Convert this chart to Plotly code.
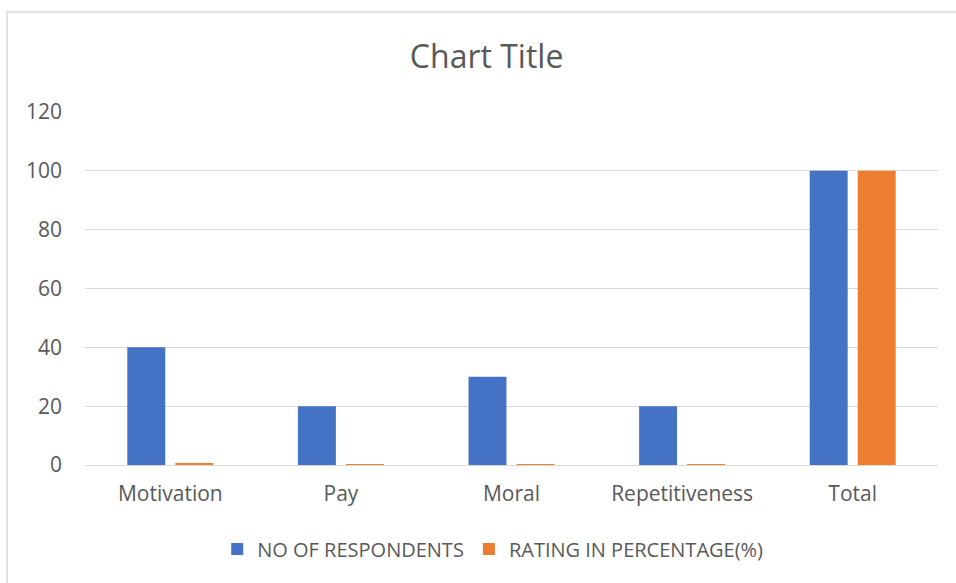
import plotly.graph_objects as go

categories = ["Motivation", "Pay", "Moral", "Repetitiveness", "Total"]
respondents = [40, 20, 30, 20, 100]
rating_pct = [0.4, 0.2, 0.3, 0.2, 100]

FONT = "Open Sans"
GRAY = "#595959"

fig = go.Figure()
fig.add_trace(go.Bar(x=categories, y=respondents, name="NO OF RESPONDENTS",
                     marker=dict(color="#4472C4", line=dict(width=0))))
fig.add_trace(go.Bar(x=categories, y=rating_pct, name="RATING IN PERCENTAGE(%)",
                     marker=dict(color="#ED7D31", line=dict(width=0))))

L, R, T, B = 85, 18, 112, 118
W, H = 956, 583
pw, ph = W - L - R, H - T - B

fig.update_layout(
    width=W, height=H,
    margin=dict(l=L, r=R, t=T, b=B),
    paper_bgcolor="white", plot_bgcolor="white",
    barmode="group", bargap=0.437, bargroupgap=0.21,
    title=dict(text="Chart Title", x=0.509, xref="container", xanchor="center",
               y=1 - 57 / H, yref="container", yanchor="middle",
               font=dict(family=FONT, size=32, color=GRAY)),
    font=dict(family=FONT, color=GRAY),
    showlegend=True,
    legend=dict(orientation="h", x=0.478, xanchor="center", xref="paper",
                y=(H - B - 549) / ph, yanchor="middle",
                font=dict(family=FONT, size=20, color=GRAY),
                itemwidth=30, traceorder="normal"),
    yaxis=dict(range=[0, 120], dtick=20, showgrid=True, gridcolor="#d9d9d9",
               gridwidth=1, zeroline=False, showline=False,
               tickfont=dict(family=FONT, size=21, color=GRAY),
               ticklabelstandoff=22, fixedrange=True),
    xaxis=dict(showgrid=False, showline=True, linecolor="#d9d9d9", linewidth=1,
               tickfont=dict(family=FONT, size=21, color=GRAY),
               ticklabelstandoff=10, fixedrange=True),
    hovermode=False,
)

fig.add_shape(type="rect", xref="paper", yref="paper",
              x0=(7 - L) / pw, x1=1.2, y0=-0.6, y1=(H - B - 12) / ph,
              line=dict(color="#d9d9d9", width=1.5), fillcolor="rgba(0,0,0,0)",
              layer="below")

fig.write_html("out.html")
